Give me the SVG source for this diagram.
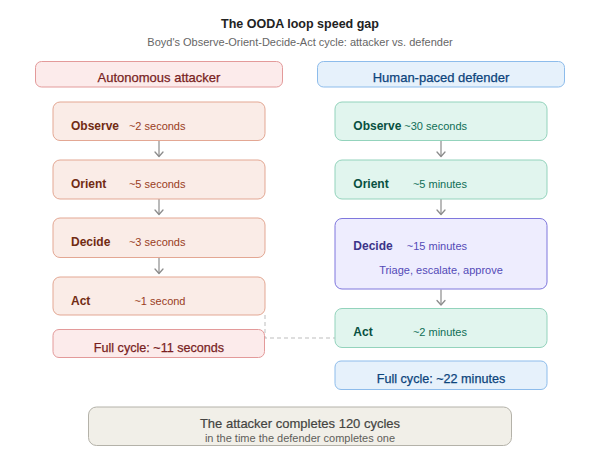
<svg xmlns="http://www.w3.org/2000/svg" width="600" height="458" viewBox="0 0 600 458">
<defs>
<marker id="arr" viewBox="0 0 10 10" refX="8.5" refY="5" markerWidth="10" markerHeight="10" markerUnits="userSpaceOnUse" orient="auto">
<path d="M4,1 L8.5,5 L4,9" fill="none" stroke="#8c8c8c" stroke-width="1.3" stroke-linecap="round" stroke-linejoin="round"/>
</marker>
</defs>
<style>
text{font-family:"Liberation Sans",Arial,Helvetica,sans-serif;dominant-baseline:central}
.title{font-size:12.5px;font-weight:bold;fill:#222;text-anchor:middle}
.sub{font-size:11px;fill:#666;text-anchor:middle}
.hdr{font-size:13px;text-anchor:middle;stroke-width:0.25}
.lbl{font-size:12px;font-weight:bold}
.val{font-size:11px;text-anchor:end}
.mid{text-anchor:middle}
.coral rect{fill:#FAECE7;stroke:#E3A793}
.coral .lbl{fill:#712B13}
.coral .val{fill:#993C1D}
.red rect{fill:#FCEBEB;stroke:#E39A9A}
.red text{fill:#791F1F;stroke:#791F1F}
.teal rect{fill:#E1F5EE;stroke:#93D3BC}
.teal .lbl{fill:#085041}
.teal .val{fill:#0F6E56}
.purple rect{fill:#EEEDFE;stroke:#7F77DD}
.purple .lbl{fill:#3C3489}
.purple .val,.purple .note{fill:#534AB7}
.blue rect{fill:#E6F1FB;stroke:#8DBCEB}
.blue text{fill:#0C447C;stroke:#0C447C}
.gray rect{fill:#F1EFE8;stroke:#B4B2A9}
rect{stroke-width:1}
.edge{fill:none;stroke:#8c8c8c;stroke-width:1.2}
.dash{fill:none;stroke:#bdbdbd;stroke-width:1;stroke-dasharray:4 3}
</style>
<rect width="600" height="458" fill="#ffffff"/>
<g id="title">
<text class="title" x="300" y="24">The OODA loop speed gap</text>
<text class="sub" x="300" y="41.5">Boyd's Observe-Orient-Decide-Act cycle: attacker vs. defender</text>
</g>
<g id="connectors">
<path class="dash" d="M265,315 V338 H335"/>
<path class="edge" d="M159,141 V156.5" marker-end="url(#arr)"/>
<path class="edge" d="M159,199 V214.5" marker-end="url(#arr)"/>
<path class="edge" d="M159,257.5 V273.5" marker-end="url(#arr)"/>
<path class="edge" d="M441,141 V156.5" marker-end="url(#arr)"/>
<path class="edge" d="M441,199 V214.5" marker-end="url(#arr)"/>
<path class="edge" d="M441,289.5 V305" marker-end="url(#arr)"/>
</g>
<g id="hdr-attacker" class="red">
<rect x="35.5" y="61.5" width="247" height="25.5" rx="6"/>
<text class="hdr" x="159" y="77.7">Autonomous attacker</text>
</g>
<g id="hdr-defender" class="blue">
<rect x="317.5" y="61.5" width="247" height="25.5" rx="6"/>
<text class="hdr" x="441" y="77.7">Human-paced defender</text>
</g>
<g id="a-observe" class="coral">
<rect x="53" y="102" width="212" height="38.5" rx="7"/>
<text class="lbl" x="71" y="126">Observe</text>
<text class="val" x="185.5" y="126">~2 seconds</text>
</g>
<g id="a-orient" class="coral">
<rect x="53" y="160" width="212" height="39" rx="7"/>
<text class="lbl" x="71" y="184">Orient</text>
<text class="val" x="185.5" y="184">~5 seconds</text>
</g>
<g id="a-decide" class="coral">
<rect x="53" y="218" width="212" height="39.5" rx="7"/>
<text class="lbl" x="71" y="242">Decide</text>
<text class="val" x="185.5" y="242">~3 seconds</text>
</g>
<g id="a-act" class="coral">
<rect x="53" y="277" width="212" height="38" rx="7"/>
<text class="lbl" x="71" y="300.5">Act</text>
<text class="val" x="185.5" y="300.5">~1 second</text>
</g>
<g id="a-full" class="red">
<rect x="53" y="329.5" width="211.5" height="28" rx="6"/>
<text class="hdr" x="159" y="347.5" style="font-size:12.6px">Full cycle: ~11 seconds</text>
</g>
<g id="d-observe" class="teal">
<rect x="335" y="102" width="212" height="38.5" rx="7"/>
<text class="lbl" x="353.3" y="126">Observe</text>
<text class="val" x="467" y="126">~30 seconds</text>
</g>
<g id="d-orient" class="teal">
<rect x="335" y="160" width="212" height="39" rx="7"/>
<text class="lbl" x="353.3" y="184">Orient</text>
<text class="val" x="467" y="184">~5 minutes</text>
</g>
<g id="d-decide" class="purple">
<rect x="335" y="218.5" width="212" height="70.5" rx="7"/>
<text class="lbl" x="353.3" y="245.5">Decide</text>
<text class="val" x="467" y="245.5">~15 minutes</text>
<text class="note mid" x="441" y="270" style="font-size:11px">Triage, escalate, approve</text>
</g>
<g id="d-act" class="teal">
<rect x="335" y="308.5" width="212" height="39" rx="7"/>
<text class="lbl" x="353.3" y="332">Act</text>
<text class="val" x="467" y="332">~2 minutes</text>
</g>
<g id="d-full" class="blue">
<rect x="335" y="361" width="212" height="28.5" rx="6"/>
<text class="hdr" x="441" y="379" style="font-size:12.6px">Full cycle: ~22 minutes</text>
</g>
<g id="summary" class="gray">
<rect x="88.5" y="407" width="423" height="38.5" rx="8"/>
<text class="mid" x="300" y="423.3" style="font-size:13px;fill:#444441;stroke:#444441;stroke-width:0.2">The attacker completes 120 cycles</text>
<text class="mid" x="300" y="437.7" style="font-size:11px;fill:#5F5E5A">in the time the defender completes one</text>
</g>
</svg>
